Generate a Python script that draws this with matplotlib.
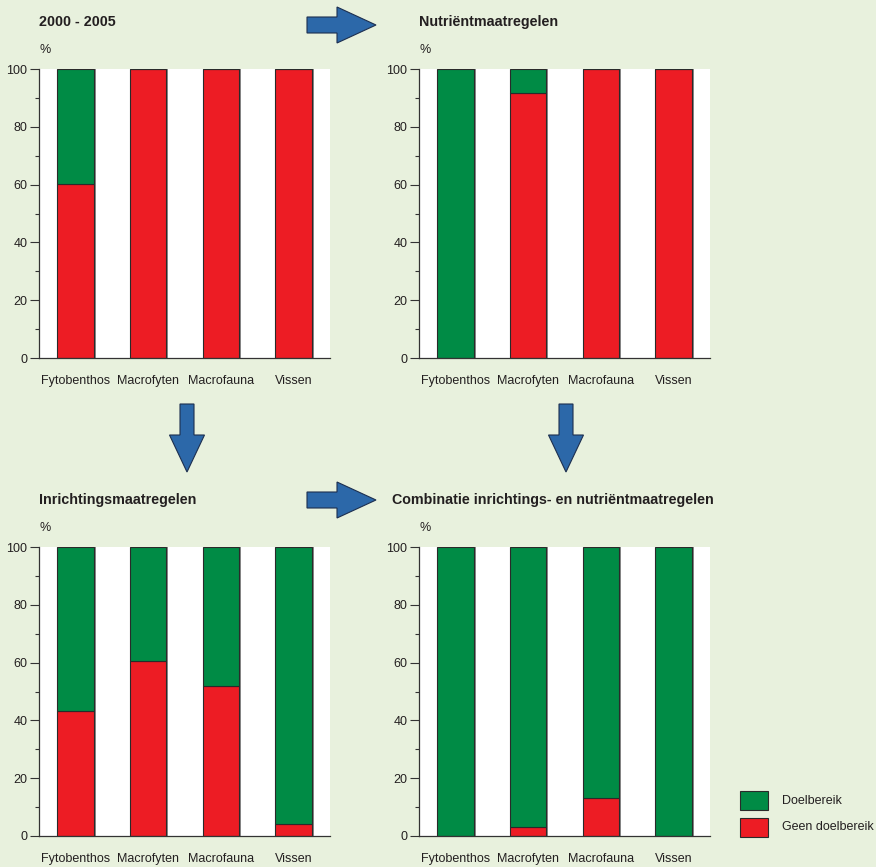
import matplotlib
matplotlib.use("Agg")
import matplotlib.pyplot as plt
from matplotlib.patches import Polygon, Rectangle
import numpy as np

# ---- data ----
categories = ["Fytobenthos", "Macrofyten", "Macrofauna", "Vissen"]
titles = ["2000 - 2005", "Nutriëntmaatregelen", "Inrichtingsmaatregelen",
          "Combinatie inrichtings- en nutriëntmaatregelen"]
geen_2000 = [60.2, 100, 100, 100]
geen_nutrient = [0, 91.7, 100, 100]
geen_inrichting = [43.3, 60.6, 51.9, 4.2]
geen_combinatie = [0, 3.1, 13.1, 0]
legend_labels = ["Doelbereik", "Geen doelbereik"]
yticks = [0, 20, 40, 60, 80, 100]

BG = "#e8f1dd"
GREEN = "#008b45"
RED = "#ed1c24"
BLUE = "#2c68a9"
TXT = "#231f20"
FONT = ["Liberation Sans", "DejaVu Sans"]

W, H = 876, 867
fig = plt.figure(figsize=(W / 100, H / 100), dpi=100, facecolor=BG)

def fx(x):
    return x / W

def fy(y):
    return 1 - y / H

panels = [
    (39, 358, geen_2000, titles[0], 39),
    (419, 358, geen_nutrient, titles[1], 419),
    (39, 836, geen_inrichting, titles[2], 39),
    (419, 836, geen_combinatie, titles[3], 392),
]

for left, bottom, geen, title, tx in panels:
    ax = fig.add_axes([fx(left), fy(bottom), 291 / W, 289 / H])
    ax.set_facecolor("white")
    x = np.arange(len(categories))
    geen = np.array(geen, dtype=float)
    doel = 100 - geen
    # shadow
    ax.bar(x + 0.03, geen + doel, width=0.5, color="#8a8a8a", zorder=1)
    ax.bar(x, geen, width=0.5, color=RED, edgecolor="#2a2a2a", linewidth=0.8, zorder=2)
    ax.bar(x, doel, bottom=geen, width=0.5, color=GREEN, edgecolor="#2a2a2a",
           linewidth=0.8, zorder=2)
    ax.set_xlim(-0.5, 3.5)
    ax.set_ylim(0, 100)
    ax.set_yticks(yticks)
    ax.set_yticks([10, 30, 50, 70, 90], minor=True)
    ax.set_xticks(x)
    ax.set_xticklabels(categories, fontsize=9, family=FONT, color=TXT)
    for lab in ax.get_yticklabels():
        lab.set_fontfamily(FONT)
    ax.tick_params(axis="y", which="major", length=6.5, width=0.8, color="#333333",
                   labelsize=9, labelcolor=TXT, pad=2)
    ax.tick_params(axis="y", which="minor", length=3, width=0.8, color="#333333")
    ax.tick_params(axis="x", length=0, pad=12)
    for s in ["top", "right"]:
        ax.spines[s].set_visible(False)
    for s in ["left", "bottom"]:
        ax.spines[s].set_color("#333333")
        ax.spines[s].set_linewidth(0.9)
    fig.text(fx(tx), fy(22 if bottom < 500 else 500), title, fontsize=10.3,
             fontweight="bold", family=FONT, color=TXT, va="center", ha="left")
    fig.text(fx(left + 1), fy(50 if bottom < 500 else 528), "%", fontsize=9,
             family=FONT, color=TXT, va="center", ha="left")

# overlay for arrows and legend (pixel coordinates)
ov = fig.add_axes([0, 0, 1, 1], facecolor="none")
ov.set_xlim(0, W)
ov.set_ylim(H, 0)
ov.axis("off")

def harrow(x0, yc):
    pts = [(x0, yc - 8), (x0 + 30, yc - 8), (x0 + 30, yc - 18), (x0 + 69, yc),
           (x0 + 30, yc + 18), (x0 + 30, yc + 8), (x0, yc + 8)]
    ov.add_patch(Polygon(pts, closed=True, facecolor=BLUE, edgecolor="#1d2f4f", linewidth=0.8))

def varrow(xc, y0):
    pts = [(xc - 7, y0), (xc + 7, y0), (xc + 7, y0 + 31), (xc + 17.5, y0 + 31),
           (xc, y0 + 68), (xc - 17.5, y0 + 31), (xc - 7, y0 + 31)]
    ov.add_patch(Polygon(pts, closed=True, facecolor=BLUE, edgecolor="#1d2f4f", linewidth=0.8))

harrow(307, 25)
harrow(307, 500)
varrow(187, 404)
varrow(566, 404)

for (ytop, col, lab) in [(791, GREEN, legend_labels[0]), (818, RED, legend_labels[1])]:
    ov.add_patch(Rectangle((740, ytop), 28, 19, facecolor=col, edgecolor="#2a2a2a", linewidth=0.8))
    ov.text(782, ytop + 9.5, lab, fontsize=9, family=FONT, color=TXT, va="center", ha="left")

fig.savefig("out.png", dpi=100, facecolor=BG)
